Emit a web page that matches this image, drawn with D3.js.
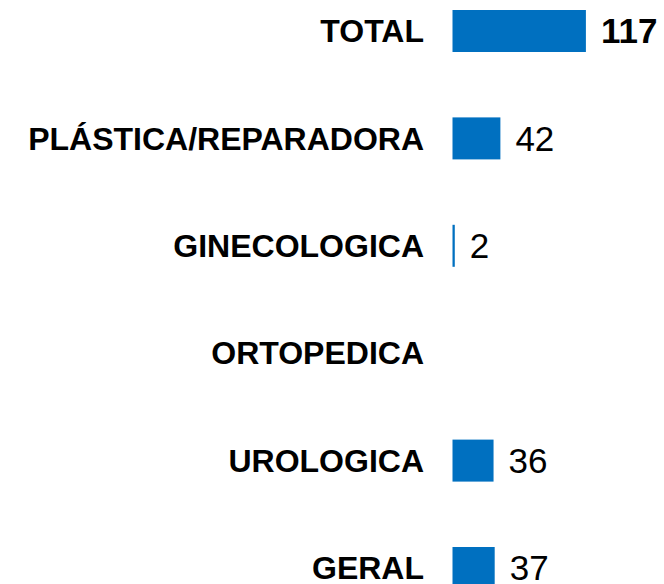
<!DOCTYPE html>
<html>
<head>
<meta charset="utf-8">
<script src="https://cdn.jsdelivr.net/npm/d3@7"></script>
<style>
  body { margin: 0; background: #fff; }
  text { font-family: "Liberation Sans", Arial, sans-serif; }
</style>
</head>
<body>
<div class="chart"></div>
<script>
const categories = ["TOTAL", "PLÁSTICA/REPARADORA", "GINECOLOGICA", "ORTOPEDICA", "UROLOGICA", "GERAL"];
const values = [117, 42, 2, 0, 36, 37];

const width = 664, height = 584;
const barLeft = 452.5, labelRight = 424, barH = 42;

const svg = d3.select(".chart").append("svg")
    .attr("width", width)
    .attr("height", height);

const xScale = d3.scaleLinear()
    .domain([0, 117])
    .range([0, 133.4]);

const yScale = d3.scalePoint()
    .domain(categories)
    .range([31, 568]);

const data = categories.map((c, i) => ({cat: c, value: values[i], total: i === 0}));

// bars
svg.append("g")
    .attr("fill", "#0070C0")
    .selectAll("rect")
    .data(data.filter(d => d.value > 0))
    .join("rect")
    .attr("x", barLeft)
    .attr("y", d => yScale(d.cat) - barH / 2)
    .attr("width", d => Math.max(xScale(d.value), 2))
    .attr("height", barH);

// category labels
svg.append("g")
    .attr("font-size", 32)
    .attr("font-weight", "bold")
    .attr("text-anchor", "end")
    .selectAll("text")
    .data(data)
    .join("text")
    .attr("x", labelRight)
    .attr("y", d => yScale(d.cat))
    .attr("dy", "0.35em")
    .text(d => d.cat);

// value labels
svg.append("g")
    .selectAll("text")
    .data(data.filter(d => d.value > 0))
    .join("text")
    .attr("x", d => barLeft + Math.max(xScale(d.value), 2) + 15)
    .attr("y", d => yScale(d.cat))
    .attr("dy", "0.35em")
    .attr("font-size", 35)
    .attr("font-weight", d => d.total ? "bold" : "normal")
    .text(d => d.value);
</script>
</body>
</html>
